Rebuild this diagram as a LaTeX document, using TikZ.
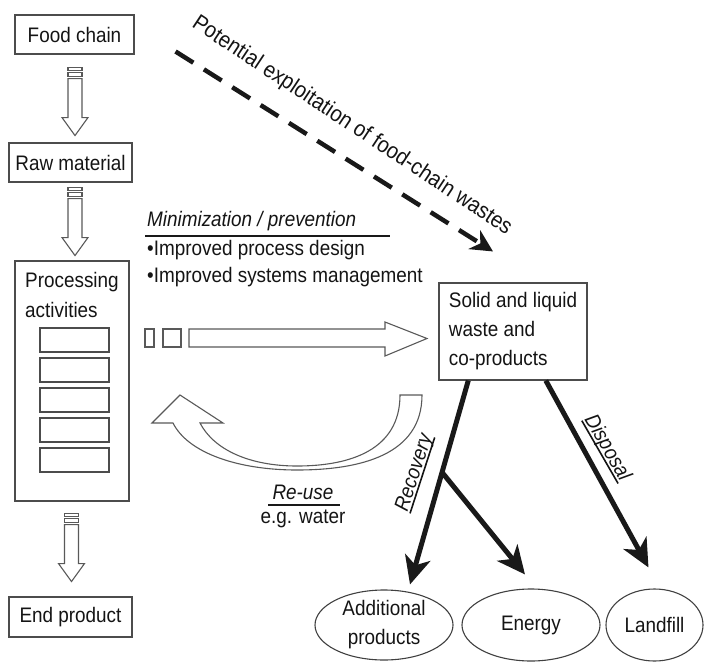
\documentclass[tikz,border=0pt]{standalone}
\usepackage{fontspec}
\setmainfont{Liberation Sans}[FakeStretch=0.9]
\usetikzlibrary{shapes.geometric,arrows.meta,calc}
\newcommand{\myul}[1]{\setbox0\hbox{#1}\rlap{\rule[-3.5pt]{\wd0}{1.6pt}}\box0}
\begin{document}
\begin{tikzpicture}[x=1pt,y=-1pt,
  txt/.style={text=black!92, font=\fontsize{21}{29}\selectfont, inner sep=0pt},
  box/.style={draw=black!70, line width=1.1pt, inner sep=0pt},
  hol/.style={draw=black!65, line width=1.1pt, fill=white, line join=miter},
  bigarr/.style={line width=5pt, draw=black!90, -{Stealth[length=28pt,width=26pt,inset=8pt]}},
  ell/.style={draw=black!75, line width=1.1pt, ellipse, inner sep=0pt, align=center, text=black!92, font=\fontsize{21}{29}\selectfont},
  varrow/.pic={
    \draw[hol] (-7,0) rectangle (7,3) (-7,5) rectangle (7,9);
    \draw[hol] (-7,11) -- (-7,50) -- (-13,50) -- (0,68) -- (13,50) -- (7,50) -- (7,11) -- cycle;
  }]
\useasboundingbox (0,0) rectangle (705,662);

% left column boxes
\node[box, txt, draw=black!70, minimum width=119pt, minimum height=39pt] (fc) at (74.5,34.5) {Food chain};
\node[box, txt, draw=black!70, minimum width=123pt, minimum height=39pt] (raw) at (70.5,162.5) {Raw material};
\node[box, minimum width=114pt, minimum height=240pt] (proc) at (72,381) {};
\node[txt, anchor=west] (proct) at (25,282) {Processing};
\node[txt, anchor=west] (proct2) at (25,310) {activities};
\foreach \i/\yy in {1/340,2/370,3/400,4/430,5/460}
  \node[box, minimum width=69pt, minimum height=24pt] (s\i) at (74.5,\yy) {};
\node[box, txt, draw=black!70, minimum width=123pt, minimum height=40pt] (endp) at (70.5,617) {End product};

% hollow vertical arrows
\pic at ($(fc.south)+(0.5,13)$) {varrow};
\pic at ($(raw.south)+(4.5,5)$) {varrow};
\pic at ($(proc.south)+(-0.5,12)$) {varrow};

% waste box
\node[box, txt, draw=black!70, minimum width=148pt, minimum height=97pt, align=left] (waste) at (513,331.5)
  {Solid and liquid\\waste and\\co-products};

% minimization text
\node[txt, anchor=west, font=\fontsize{21}{23}\selectfont\itshape] (mini) at (147,221) {Minimization / prevention};
\draw[line width=2.4pt, black!90] (145,236) -- (390,236);
\node[txt, anchor=west] (imp1) at (147,250) {•Improved process design};
\node[txt, anchor=west] (imp2) at (147,277) {•Improved systems management};

% horizontal hollow arrow
\draw[hol] (145,329) rectangle (154,347);
\draw[hol] (163,329) rectangle (181,347);
\draw[hol] (189,329) -- (385,329) -- (385,322) -- (427,338.5) -- (385,356) -- (385,347) -- (189,347) -- cycle;

% re-use curved hollow arrow
\draw[hol] (422,395) .. controls (422,455) and (360,470) .. (297,470)
  .. controls (238,470) and (188,453) .. (173,423)
  -- (152,423) -- (180,395) -- (223,423) -- (200,423)
  .. controls (214,450) and (250,466) .. (297,466)
  .. controls (350,466) and (400,450) .. (400,395) -- cycle;
\node[txt, font=\fontsize{21}{23}\selectfont\itshape] (reuse) at (303,492) {Re-use};
\draw[line width=2.4pt, black!90] (268,505) -- (340,505);
\node[txt] (water) at (303,519) {e.g. water};

% dashed arrow
\draw[line width=4.5pt, black!90, dash pattern=on 21pt off 12.5pt,
  -{Stealth[length=22pt,width=22pt,inset=7pt]}]
  ($(fc.east)+(41,17)$) -- ($(waste.north)+(-20,-31)$);
\node[txt, rotate=-33.5, font=\fontsize{22.5}{25}\selectfont] (pot) at (352,126) {Potential exploitation of food-chain wastes};

% ellipses
\node[ell, minimum width=138pt, minimum height=70pt] (addp) at (384,625) {Additional\\products};
\node[ell, minimum width=138pt, minimum height=72pt] (energy) at (531,625) {Energy};
\node[ell, minimum width=97pt, minimum height=72pt] (land) at (654.5,625) {Landfill};

% black arrows
\coordinate (rec0) at ($(waste.south west)!0.2!(waste.south east)$);
\coordinate (dis0) at ($(waste.south west)!0.72!(waste.south east)$);
\coordinate (rectip) at ($(addp.north)+(26,-5)$);
\coordinate (br) at ($(rec0)!0.45!(rectip)$);
\draw[bigarr] (rec0) -- (rectip);
\draw[bigarr] (br) -- ($(energy.north)+(-6,-14)$);
\draw[bigarr] (dis0) -- ($(land.north)+(-6,-21)$);
\node[txt, rotate=72, font=\fontsize{21}{23}\selectfont\itshape] (rec) at (415,473) {\myul{Recovery}};
\node[txt, rotate=-60, font=\fontsize{21}{23}\selectfont\itshape] (dis) at (607,448) {\myul{Disposal}};
\end{tikzpicture}
\end{document}
